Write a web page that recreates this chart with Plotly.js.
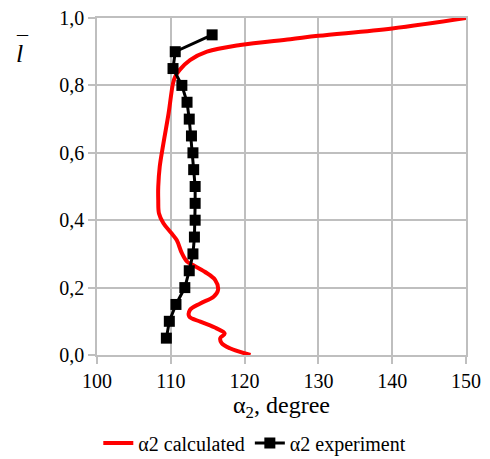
<!DOCTYPE html>
<html>
<head>
<meta charset="utf-8">
<script src="https://cdn.plot.ly/plotly-3.0.1.min.js"></script>
</head>
<body style="margin:0">
<div id="chart" style="width:490px;height:459px"></div>
<script>
// Calculated curve (red)
const calcAlpha = [120.8, 118.0, 116.9, 116.7, 117.3, 116.2, 114.0, 112.5, 112.6, 114.0, 115.8, 116.4, 116.0, 114.6, 113.0, 112.2, 111.5, 110.8, 110.1, 109.0, 108.4, 108.3, 108.3, 108.5, 109.0, 109.7, 110.3, 110.6, 111.2, 112.6, 114.9, 119.4, 126.2, 130.0, 140.0, 150.0];
const calcL =     [0.0,   0.020, 0.035, 0.050, 0.064, 0.079, 0.099, 0.114, 0.134, 0.153, 0.173, 0.193, 0.223, 0.247, 0.267, 0.277, 0.302, 0.341, 0.361, 0.391, 0.420, 0.460, 0.499, 0.559, 0.628, 0.717, 0.806, 0.826, 0.846, 0.875, 0.900, 0.920, 0.937, 0.947, 0.969, 1.0];
// Experimental points (black squares)
const expAlpha = [109.4, 109.8, 110.7, 111.9, 112.5, 113.0, 113.2, 113.3, 113.3, 113.3, 113.1, 113.0, 112.8, 112.5, 112.2, 111.5, 110.3, 110.6, 115.6];
const expL =     [0.05, 0.10, 0.15, 0.20, 0.25, 0.30, 0.35, 0.40, 0.45, 0.50, 0.55, 0.60, 0.65, 0.70, 0.75, 0.80, 0.85, 0.90, 0.95];
const seriesNames = ['α2 calculated', 'α2 experiment'];

const FAM = 'Times New Roman';
const GRID = '#bfbfbf';

const traces = [
  {x: calcAlpha, y: calcL, name: seriesNames[0], mode: 'lines',
   line: {color: '#ff0000', width: 4, shape: 'spline', smoothing: 1}},
  {x: expAlpha, y: expL, name: seriesNames[1], mode: 'lines+markers',
   line: {color: '#000000', width: 3},
   marker: {symbol: 'square', size: 11, color: '#000000'}}
];

const layout = {
  width: 490, height: 459,
  margin: {l: 97, r: 24, t: 18, b: 104},
  paper_bgcolor: '#ffffff', plot_bgcolor: '#ffffff',
  separators: ', ',
  font: {family: FAM, size: 20, color: '#000000'},
  showlegend: true,
  legend: {orientation: 'h', xref: 'container', yref: 'container',
           x: 0.52, xanchor: 'center', y: 0.035, yanchor: 'middle',
           font: {family: FAM, size: 20, color: '#000000'}},
  xaxis: {range: [100, 150], dtick: 10, tick0: 100,
          showgrid: true, gridcolor: GRID, gridwidth: 1.5,
          showline: true, linecolor: GRID, linewidth: 1.5, mirror: true,
          zeroline: false, ticks: 'outside', ticklen: 7, tickcolor: GRID, tickwidth: 1.5,
          tickfont: {family: FAM, size: 20, color: '#000000'},
          title: {text: 'α<sub>2</sub>, degree', font: {family: FAM, size: 24, color: '#000000'}, standoff: 4}},
  yaxis: {range: [0, 1], dtick: 0.2, tick0: 0, tickformat: '.1f',
          showgrid: true, gridcolor: GRID, gridwidth: 1.5,
          showline: true, linecolor: GRID, linewidth: 1.5, mirror: true,
          zeroline: false, ticks: 'outside', ticklen: 7, tickcolor: GRID, tickwidth: 1.5,
          tickfont: {family: FAM, size: 20, color: '#000000'}},
  annotations: [
    {text: '<i>l</i>', xref: 'paper', yref: 'paper', x: -0.209, y: 0.895, xanchor: 'center', yanchor: 'middle',
     showarrow: false, font: {family: FAM, size: 26, color: '#000000'}},
    {text: '¯', xref: 'paper', yref: 'paper', x: -0.203, y: 0.925, xanchor: 'center', yanchor: 'middle',
     showarrow: false, font: {family: FAM, size: 22, color: '#000000'}}
  ]
};

Plotly.newPlot('chart', traces, layout, {displayModeBar: false});
</script>
</body>
</html>
